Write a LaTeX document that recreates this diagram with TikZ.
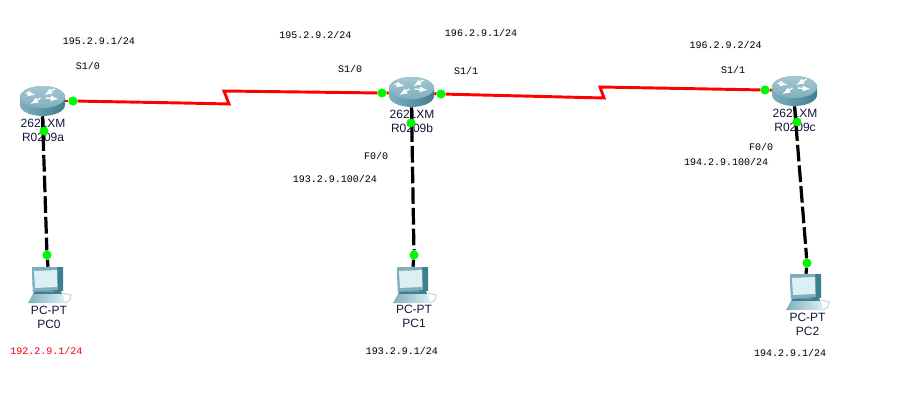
\documentclass[tikz,border=0pt]{standalone}
\usepackage{fontspec}
\setmainfont{Liberation Sans}
\newfontfamily\addrfont{Liberation Mono}
\usetikzlibrary{positioning}
\definecolor{linkred}{HTML}{FF0000}
\definecolor{portgreen}{HTML}{00F800}
\definecolor{tealdark}{HTML}{3F7F90}
\definecolor{teallight}{HTML}{DCEFF2}
\definecolor{tealmid}{HTML}{7FAFBF}
\definecolor{devink}{HTML}{15153A}
\tikzset{
  routerbox/.style={minimum width=33.75pt,minimum height=22.5pt,inner sep=0pt},
  pcbox/.style={minimum width=34.5pt,minimum height=27pt,inner sep=0pt},
  devtext/.style={font=\fontsize{9}{10.5}\selectfont,text=devink,align=center,inner sep=0pt},
  addr/.style={font=\addrfont\fontsize{7.5}{9}\selectfont,fill=blue!2,inner sep=.6pt},
  port/.style={circle,fill=portgreen,minimum size=6.6pt,inner sep=0pt},
  serial/.style={draw=linkred,line width=2.2pt,line join=miter},
  fast/.style={draw=black,line width=2.4pt,dash pattern=on 26pt off 3pt on 12.5pt off 3pt on 12.5pt off 3pt on 12.5pt off 3pt on 12.5pt off 3pt on 12.5pt off 3pt on 12.5pt off 3pt},
  routericon/.pic={
    \shade[left color=tealmid,middle color=teallight,right color=tealdark]
      (-22.5,-4) arc[start angle=180,end angle=360,x radius=22.5,y radius=11] -- (22.5,4)
      arc[start angle=0,end angle=180,x radius=22.5,y radius=11] -- cycle;
    \shade[top color=tealmid!70!white,bottom color=tealmid] (0,-4) ellipse[x radius=22.5,y radius=11];
    \draw[white,line width=1pt,-latex] (-17,-8) -- (-7,-6);
    \draw[white,line width=1pt,latex-] (2,-6) -- (12,-12);
    \draw[white,line width=1pt,latex-] (-12,3) -- (-2,-3);
    \draw[white,line width=1pt,-latex] (3,-3) -- (16,-2);
  },
  pcicon/.pic={
    \fill[tealdark] (-16,-18) -- (15,-18) -- (15,6) -- (-15,7) -- cycle;
    \fill[tealmid] (-16,-18) -- (9,-18) -- (10,5) -- (-15,7) -- cycle;
    \fill[teallight] (-14,-14) -- (9,-15) -- (9,2) -- (-13,3) -- cycle;
    \fill[tealdark] (-14,7) -- (13,6) -- (14,9) -- (-15,9) -- cycle;
    \shade[left color=tealmid,right color=teallight] (-20,18) -- (-15,9) -- (15,9) -- (17,18) -- cycle;
    \draw[tealmid!50!white,line width=.8pt] (15,8) -- (23,10) -- (22,15) -- (17,18);
  }
}
\begin{document}
\begin{tikzpicture}[x=0.75pt,y=-0.75pt]
  \useasboundingbox (0,0) rectangle (910,400);
  % routers and computers
  \node[routerbox] (Ra) at (42.5,101) {};
  \node[routerbox] (Rb) at (411.5,92) {};
  \node[routerbox] (Rc) at (794.5,91) {};
  \node[pcbox] (PC0) at (48,285) {};
  \node[pcbox] (PC1) at (413,285) {};
  \node[pcbox] (PC2) at (806,292) {};
  \node[devtext] (Ratext) [below=2.2pt of Ra,xshift=.4pt] {2621XM\\R0209a};
  \node[devtext] (Rbtext) [below=2.2pt of Rb,xshift=.4pt] {2621XM\\R0209b};
  \node[devtext] (Rctext) [below=2.2pt of Rc,xshift=.4pt] {2621XM\\R0209c};
  \node[devtext] (PC0text) at (49,317) {PC-PT\\PC0};
  \node[devtext] (PC1text) at (414,316) {PC-PT\\PC1};
  \node[devtext] (PC2text) at (807.5,324) {PC-PT\\PC2};
  % interface dots
  \node[port] (Ras) at (73,101) {};
  \node[port] (Raf) at (44,131) {};
  \node[port] (Rbs0) at (382,93) {};
  \node[port] (Rbs1) at (441,94) {};
  \node[port] (Rbf) at (411,123) {};
  \node[port] (Rcs) at (765,90) {};
  \node[port] (Rcf) at (797,122) {};
  \node[port] (PC0f) at (47,255) {};
  \node[port] (PC1f) at (414,255) {};
  \node[port] (PC2f) at (807,263) {};
  % links
  \draw[serial] (Ras) -- (183,103) -- (229,104) -- (224,91) -- (Rbs0);
  \draw[serial] (Rbs1) -- (604,98) -- (600,87) -- (Rcs);
  \draw[serial] (Ra) -- (Ras);
  \draw[serial] (Rb) -- (Rbs0);
  \draw[serial] (Rb) -- (Rbs1);
  \draw[serial] (Rc) -- (Rcs);
  \pic at (Ra) {routericon};
  \pic at (Rb) {routericon};
  \pic at (Rc) {routericon};
  \pic at (PC0) {pcicon};
  \pic at (PC1) {pcicon};
  \pic at (PC2) {pcicon};
  \draw[fast] (Ra.south) -- (PC0f);
  \draw[fast] (Rb.south) -- (PC1f);
  \draw[fast] (Rc.south) -- (PC2f);
  \draw[black,line width=2.4pt] (PC0f) -- (PC0.north);
  \draw[black,line width=2.4pt] (PC1f) -- (PC1.north);
  \draw[black,line width=2.4pt] (PC2f) -- (PC2.north);
  \node[port] at (Ras) {};
  \node[port] at (Raf) {};
  \node[port] at (Rbs0) {};
  \node[port] at (Rbs1) {};
  \node[port] at (Rbf) {};
  \node[port] at (Rcs) {};
  \node[port] at (Rcf) {};
  \node[port] at (PC0f) {};
  \node[port] at (PC1f) {};
  \node[port] at (PC2f) {};
  % addresses
  \node[addr] (a1) at (99,41) {195.2.9.1/24};
  \node[addr] (a2) at (88,66) {S1/0};
  \node[addr] (a3) at (315.5,35) {195.2.9.2/24};
  \node[addr] (a4) at (350,69) {S1/0};
  \node[addr] (a5) at (481,33) {196.2.9.1/24};
  \node[addr] (a6) at (466,71) {S1/1};
  \node[addr] (a7) at (725.5,45) {196.2.9.2/24};
  \node[addr] (a8) at (733,70) {S1/1};
  \node[addr] (a9) at (376,156) {F0/0};
  \node[addr] (a10) at (335,179) {193.2.9.100/24};
  \node[addr] (a11) at (761,147) {F0/0};
  \node[addr] (a12) at (726,162) {194.2.9.100/24};
  \node[addr,text=linkred] (a13) at (46.5,351) {192.2.9.1/24};
  \node[addr] (a14) at (402,351) {193.2.9.1/24};
  \node[addr] (a15) at (790,353) {194.2.9.1/24};
\end{tikzpicture}
\end{document}
